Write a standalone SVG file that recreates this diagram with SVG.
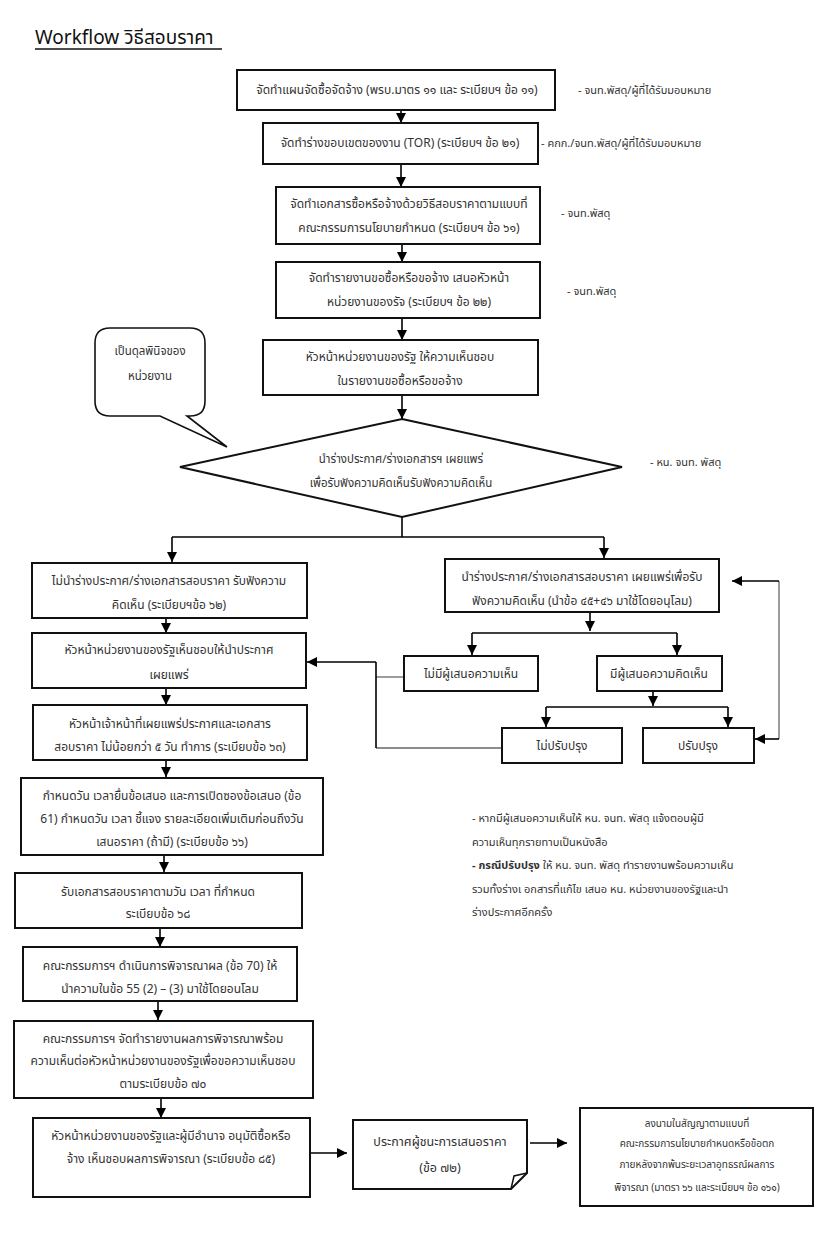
<svg xmlns="http://www.w3.org/2000/svg" width="828" height="1236" viewBox="0 0 828 1236">
<defs>
<marker id="arr" markerUnits="userSpaceOnUse" markerWidth="10" markerHeight="12" refX="10" refY="5" orient="auto" viewBox="0 0 10 10">
<path d="M0,0 L10,5 L0,10 z" fill="#000"/>
</marker>
<style>
.box{fill:#fff;stroke:#111;stroke-width:2}
.t{font-family:"Noto Sans Thai","Noto Sans","Liberation Sans",sans-serif;font-size:12px;fill:#333;text-anchor:middle}
.n{font-family:"Noto Sans Thai","Noto Sans","Liberation Sans",sans-serif;font-size:11px;fill:#333}
.c{fill:none;stroke:#000;stroke-width:1.6}
.ca{fill:none;stroke:#000;stroke-width:1.6;marker-end:url(#arr)}
.g{fill:none;stroke:#666;stroke-width:1.3}
</style>
</defs>
<rect width="828" height="1236" fill="#fff"/>
<g id="title">
<text x="35" y="44" style="font-family:'Noto Sans Thai','Noto Sans','Liberation Sans',sans-serif;font-size:19px;fill:#111">Workflow วิธีสอบราคา</text>
<line x1="35" y1="49" x2="222" y2="49" stroke="#111" stroke-width="1.5"/>
</g>
<g id="connectors">
<line class="ca" x1="401" y1="110" x2="401" y2="123"/>
<line class="ca" x1="401" y1="164" x2="401" y2="187"/>
<line class="ca" x1="402" y1="244" x2="402" y2="262"/>
<line class="ca" x1="402" y1="318" x2="402" y2="340"/>
<line class="ca" x1="402" y1="395" x2="402" y2="419"/>
<polyline class="c" points="402,517 402,537"/>
<line class="c" x1="172" y1="537" x2="604" y2="537"/>
<line class="ca" x1="172" y1="537" x2="172" y2="562"/>
<line class="ca" x1="604" y1="537" x2="604" y2="558"/>
<line class="ca" x1="166" y1="618" x2="166" y2="633"/>
<line class="ca" x1="166" y1="688" x2="166" y2="705"/>
<line class="ca" x1="166" y1="760" x2="166" y2="777"/>
<line class="ca" x1="164" y1="855" x2="164" y2="872"/>
<line class="ca" x1="160" y1="928" x2="160" y2="947"/>
<line class="ca" x1="158" y1="1001" x2="158" y2="1020"/>
<line class="ca" x1="161" y1="1098" x2="161" y2="1118"/>
<line class="ca" x1="310" y1="1153" x2="347" y2="1153"/>
<line class="ca" x1="530" y1="1143" x2="567" y2="1143"/>
<line class="ca" x1="590" y1="612" x2="590" y2="631"/>
<line class="c" x1="472" y1="633" x2="677" y2="633"/>
<line class="ca" x1="472" y1="633" x2="472" y2="655"/>
<line class="ca" x1="677" y1="633" x2="677" y2="655"/>
<line class="ca" x1="653" y1="691" x2="653" y2="706"/>
<line class="c" x1="546" y1="707" x2="728" y2="707"/>
<line class="ca" x1="546" y1="707" x2="546" y2="727"/>
<line class="ca" x1="728" y1="707" x2="728" y2="727"/>
<polyline class="g" points="404,677 376,677"/>
<polyline class="g" points="502,748 376,748"/>
<polyline class="c" points="376,748 376,662"/>
<line class="ca" x1="376" y1="662" x2="307" y2="662"/>
<polyline class="g" points="779,739 779,581"/>
<line class="ca" x1="779" y1="739" x2="755" y2="739"/>
<line class="ca" x1="779" y1="581" x2="732" y2="581"/>
</g>
<g id="n1">
<rect class="box" x="237" y="70" width="318" height="40"/>
<text class="t" x="397" y="94">จัดทำแผนจัดซื้อจัดจ้าง (พรบ.มาตร ๑๑ และ ระเบียบฯ ข้อ ๑๑)</text>
</g>
<text class="n" x="578" y="94">- จนท.พัสดุ/ผู้ที่ได้รับมอบหมาย</text>
<g id="n2">
<rect class="box" x="263" y="123" width="275" height="41"/>
<text class="t" x="400" y="147">จัดทำร่างขอบเขตของงาน (TOR) (ระเบียบฯ ข้อ ๒๑)</text>
</g>
<text class="n" x="541" y="147">- คกก./จนท.พัสดุ/ผู้ที่ได้รับมอบหมาย</text>
<g id="n3">
<rect class="box" x="276" y="187" width="264" height="57"/>
<text class="t" x="409" y="208">จัดทำเอกสารซื้อหรือจ้างด้วยวิธีสอบราคาตามแบบที่</text>
<text class="t" x="409" y="232">คณะกรรมการนโยบายกำหนด (ระเบียบฯ ข้อ ๖๑)</text>
</g>
<text class="n" x="561" y="217">- จนท.พัสดุ</text>
<g id="n4">
<rect class="box" x="276" y="262" width="264" height="56"/>
<text class="t" x="409" y="282">จัดทำรายงานขอซื้อหรือขอจ้าง เสนอหัวหน้า</text>
<text class="t" x="409" y="306">หน่วยงานของรัจ (ระเบียบฯ ข้อ ๒๒)</text>
</g>
<text class="n" x="567" y="295">- จนท.พัสดุ</text>
<g id="n5">
<rect class="box" x="263" y="340" width="275" height="55"/>
<text class="t" x="400" y="361">หัวหน้าหน่วยงานของรัฐ ให้ความเห็นชอบ</text>
<text class="t" x="400" y="385">ในรายงานขอซื้อหรือขอจ้าง</text>
</g>
<g id="callout">
<path d="M110,328 H190 Q205,328 205,343 V401 Q205,416 190,416 H187 L227,447 L160,416 H110 Q95,416 95,401 V343 Q95,328 110,328 Z" fill="#fff" stroke="#111" stroke-width="1.6"/>
<text class="t" x="150" y="355" style="font-size:11.5px">เป็นดุลพินิจของ</text>
<text class="t" x="150" y="380" style="font-size:11.5px">หน่วยงาน</text>
</g>
<g id="decision">
<polygon class="box" points="402,419 622,467 402,517 180,467"/>
<text class="t" x="401" y="463" style="font-size:11.5px">นำร่างประกาศ/ร่างเอกสารฯ เผยแพร่</text>
<text class="t" x="401" y="487" style="font-size:11.5px">เพื่อรับฟังความคิดเห็นรับฟังความคิดเห็น</text>
</g>
<text class="n" x="650" y="466">- หน. จนท. พัสดุ</text>
<g id="l1">
<rect class="box" x="32" y="563" width="275" height="55"/>
<text class="t" x="169" y="585">ไม่นำร่างประกาศ/ร่างเอกสารสอบราคา รับฟังความ</text>
<text class="t" x="169" y="609">คิดเห็น (ระเบียบฯข้อ ๖๒)</text>
</g>
<g id="l2">
<rect class="box" x="32" y="633" width="274" height="55"/>
<text class="t" x="169" y="654">หัวหน้าหน่วยงานของรัฐเห็นชอบให้นำประกาศ</text>
<text class="t" x="169" y="679">เผยแพร่</text>
</g>
<g id="l3">
<rect class="box" x="33" y="705" width="274" height="55"/>
<text class="t" x="170" y="728">หัวหน้าเจ้าหน้าที่เผยแพร่ประกาศและเอกสาร</text>
<text class="t" x="170" y="751">สอบราคา ไม่น้อยกว่า ๕ วัน ทำการ (ระเบียบข้อ ๖๓)</text>
</g>
<g id="l4">
<rect class="box" x="21" y="778" width="302" height="77"/>
<text class="t" x="172" y="800">กำหนดวัน เวลายื่นข้อเสนอ และการเปิดซองข้อเสนอ (ข้อ</text>
<text class="t" x="172" y="823">61) กำหนดวัน เวลา ชี้แจง รายละเอียดเพิ่มเติมก่อนถึงวัน</text>
<text class="t" x="172" y="846">เสนอราคา (ถ้ามี) (ระเบียบข้อ ๖๖)</text>
</g>
<g id="l5">
<rect class="box" x="15" y="873" width="287" height="55"/>
<text class="t" x="158" y="896">รับเอกสารสอบราคาตามวัน เวลา ที่กำหนด</text>
<text class="t" x="158" y="918">ระเบียบข้อ ๖๘</text>
</g>
<g id="l6">
<rect class="box" x="23" y="947" width="274" height="54"/>
<text class="t" x="160" y="970">คณะกรรมการฯ ดำเนินการพิจารณาผล (ข้อ 70) ให้</text>
<text class="t" x="160" y="993">นำความในข้อ 55 (2) – (3) มาใช้โดยอนโลม</text>
</g>
<g id="l7">
<rect class="box" x="14" y="1021" width="299" height="77"/>
<text class="t" x="163" y="1043">คณะกรรมการฯ จัดทำรายงานผลการพิจารณาพร้อม</text>
<text class="t" x="163" y="1065">ความเห็นต่อหัวหน้าหน่วยงานของรัฐเพื่อขอความเห็นชอบ</text>
<text class="t" x="163" y="1088">ตามระเบียบข้อ ๗๐</text>
</g>
<g id="l8">
<rect class="box" x="33" y="1118" width="277" height="79"/>
<text class="t" x="171" y="1140">หัวหน้าหน่วยงานของรัฐและผู้มีอำนาจ อนุมัติซื้อหรือ</text>
<text class="t" x="171" y="1163">จ้าง เห็นชอบผลการพิจารณา (ระเบียบข้อ ๘๕)</text>
</g>
<g id="announce">
<path d="M353,1120 H527 V1173 L511,1189 H353 Z" fill="#fff" stroke="#111" stroke-width="2"/>
<path d="M511,1189 L514,1176 L527,1173" fill="none" stroke="#111" stroke-width="1.5"/>
<text class="t" x="440" y="1146" style="font-size:12.5px">ประกาศผู้ชนะการเสนอราคา</text>
<text class="t" x="440" y="1172" style="font-size:12.5px">(ข้อ ๗๒)</text>
</g>
<g id="contract">
<rect class="box" x="580" y="1108" width="233" height="98"/>
<text class="t" x="697" y="1127" style="font-size:10px">ลงนามในสัญญาตามแบบที่</text>
<text class="t" x="697" y="1147" style="font-size:10px">คณะกรรมการนโยบายกำหนดหรือข้อตก</text>
<text class="t" x="697" y="1168" style="font-size:10px">ภายหลังจากพ้นระยะเวลาอุทธรณ์ผลการ</text>
<text class="t" x="697" y="1191" style="font-size:10px">พิจารณา (มาตรา ๖๖ และระเบียบฯ ข้อ ๑๖๑)</text>
</g>
<g id="r1">
<rect class="box" x="445" y="559" width="274" height="53"/>
<text class="t" x="582" y="581">นำร่างประกาศ/ร่างเอกสารสอบราคา เผยแพร่เพื่อรับ</text>
<text class="t" x="582" y="605">ฟังความคิดเห็น (นำข้อ ๔๕+๔๖ มาใช้โดยอนุโลม)</text>
</g>
<g id="r2">
<rect class="box" x="404" y="656" width="134" height="35"/>
<text class="t" x="471" y="678">ไม่มีผู้เสนอความเห็น</text>
</g>
<g id="r3">
<rect class="box" x="597" y="656" width="125" height="35"/>
<text class="t" x="659" y="678">มีผู้เสนอความคิดเห็น</text>
</g>
<g id="r4">
<rect class="box" x="502" y="728" width="120" height="35"/>
<text class="t" x="562" y="750">ไม่ปรับปรุง</text>
</g>
<g id="r5">
<rect class="box" x="643" y="728" width="111" height="35"/>
<text class="t" x="698" y="750">ปรับปรุง</text>
</g>
<g id="notes" class="n">
<text x="472" y="822">- หากมีผู้เสนอความเห็นให้ หน. จนท. พัสดุ แจ้งตอบผู้มี</text>
<text x="472" y="846">ความเห็นทุกรายทาบเป็นหนังสือ</text>
<text x="472" y="869"><tspan font-weight="bold">- กรณีปรับปรุง</tspan> ให้ หน. จนท. พัสดุ ทำรายงานพร้อมความเห็น</text>
<text x="472" y="893">รวมทั้งร่างเ อกสารที่แก้ไข เสนอ หน. หน่วยงานของรัฐและนำ</text>
<text x="472" y="916">ร่างประกาศอีกครั้ง</text>
</g>
</svg>
